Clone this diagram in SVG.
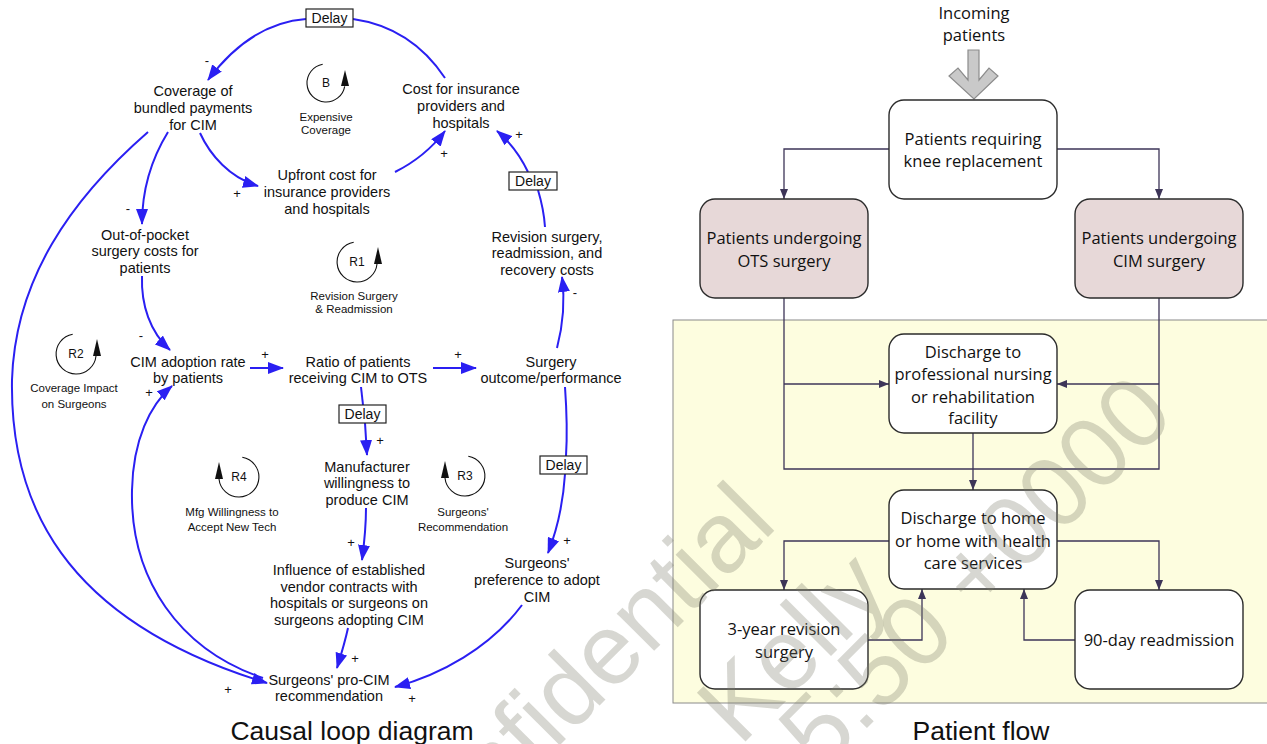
<svg xmlns="http://www.w3.org/2000/svg" width="1267" height="744" viewBox="0 0 1267 744">
<defs>
<style>
.n{font-family:"Liberation Sans",Arial,sans-serif;font-size:14.5px;fill:#111;text-anchor:middle}
.l{font-family:"Liberation Sans",Arial,sans-serif;font-size:11.5px;fill:#111;text-anchor:middle}
.r{font-family:"Liberation Sans",Arial,sans-serif;font-size:12px;fill:#111;text-anchor:middle}
.s{font-family:"Liberation Sans",Arial,sans-serif;font-size:13px;fill:#111;text-anchor:middle}
.d{font-family:"Liberation Sans",Arial,sans-serif;font-size:14px;fill:#111;text-anchor:middle}
.cap{font-family:"Liberation Sans",Arial,sans-serif;font-size:26.5px;fill:#111;text-anchor:middle}
.p{font-family:"Open Sans","Liberation Sans",sans-serif;font-size:16.5px;fill:#111;text-anchor:middle}
.b{fill:none;stroke:#2a1ff2;stroke-width:2}
.ba{fill:none;stroke:#2a1ff2;stroke-width:2;marker-end:url(#ab)}
.dl{fill:#fff;stroke:#222;stroke-width:1.2}
.lp{fill:none;stroke:#111;stroke-width:1.1}
.box{fill:#fff;stroke:#2b2b2b;stroke-width:1.4}
.pink{fill:#e7d8d8;stroke:#2b2b2b;stroke-width:1.4}
.c{fill:none;stroke:#3d3558;stroke-width:1.3}
.ca{fill:none;stroke:#3d3558;stroke-width:1.3;marker-end:url(#ag)}
.wm{font-family:"Liberation Sans",Arial,sans-serif;font-size:100px;fill:#7a7a6a;fill-opacity:0.3;text-anchor:end}
</style>
<marker id="ab" viewBox="0 0 16 12" refX="15" refY="6" markerWidth="16" markerHeight="12" markerUnits="userSpaceOnUse" orient="auto"><path d="M0,0 L16,6 L0,12 z" fill="#2a1ff2"/></marker>
<marker id="ag" viewBox="0 0 10 8" refX="10" refY="4" markerWidth="10" markerHeight="8" markerUnits="userSpaceOnUse" orient="auto"><path d="M0,0 L10,4 L0,8 z" fill="#3d3558"/></marker>
</defs>
<rect width="1267" height="744" fill="#fff"/>

<!-- ===== Causal loop diagram ===== -->
<g id="cld-connectors">
<path class="b" d="M445,78 C425,48 395,25 353,19"/>
<path class="ba" d="M306,19 C265,22 232,48 208,80"/>
<path class="ba" d="M168,132 C152,158 142,190 142,224"/>
<path class="ba" d="M200,133 C210,155 230,178 258,186"/>
<path class="ba" d="M395,172 C415,162 432,148 445,131"/>
<path class="b" d="M545,227 C544,212 541,200 538,190"/>
<path class="ba" d="M528,172 C520,155 510,142 497,131"/>
<path class="ba" d="M148,132 C70,200 15,280 12,380 C10,500 60,620 267,683"/>
<path class="ba" d="M263,678 C180,650 130,580 132,490 C133,440 150,405 172,386"/>
<path class="ba" d="M142,276 C141,305 150,332 170,350"/>
<path class="ba" d="M250,368 L283,368"/>
<path class="ba" d="M433,368 L476,368"/>
<path class="ba" d="M557,348 C563,325 565,300 562,277"/>
<path class="b" d="M361,387 L363,405"/>
<path class="ba" d="M365,423 L367,455"/>
<path class="ba" d="M366,508 C366,530 364,545 362,560"/>
<path class="ba" d="M348,628 C345,642 341,655 337,668"/>
<path class="b" d="M565,387 C567,415 567,440 566,456"/>
<path class="ba" d="M565,474 C563,505 557,530 548,553"/>
<path class="ba" d="M522,605 C490,648 440,675 395,687"/>
</g>

<g id="delay-top"><rect class="dl" x="306" y="9" width="47" height="18"/><text class="d" x="329.5" y="23">Delay</text></g>
<g id="delay-right"><rect class="dl" x="509" y="172" width="48" height="18"/><text class="d" x="533" y="186">Delay</text></g>
<g id="delay-mid"><rect class="dl" x="339" y="405" width="47" height="18"/><text class="d" x="362.5" y="419">Delay</text></g>
<g id="delay-low"><rect class="dl" x="540" y="456" width="47" height="18"/><text class="d" x="563.5" y="470">Delay</text></g>

<g id="signs">
<text class="s" x="207" y="65">-</text>
<text class="s" x="128" y="213">-</text>
<text class="s" x="237" y="198">+</text>
<text class="s" x="444" y="158">+</text>
<text class="s" x="519" y="139">+</text>
<text class="s" x="575" y="297">-</text>
<text class="s" x="141" y="340">-</text>
<text class="s" x="149" y="397">+</text>
<text class="s" x="265" y="359">+</text>
<text class="s" x="458" y="359">+</text>
<text class="s" x="380" y="445">+</text>
<text class="s" x="351" y="547">+</text>
<text class="s" x="355" y="663">+</text>
<text class="s" x="567" y="545">+</text>
<text class="s" x="412" y="703">+</text>
<text class="s" x="228" y="694">+</text>
</g>

<g id="node-coverage"><text class="n" x="193" y="96">Coverage of</text><text class="n" x="193" y="113">bundled payments</text><text class="n" x="193" y="130">for CIM</text></g>
<g id="node-cost"><text class="n" x="461" y="94">Cost for insurance</text><text class="n" x="461" y="111">providers and</text><text class="n" x="461" y="128">hospitals</text></g>
<g id="node-upfront"><text class="n" x="327" y="180">Upfront cost for</text><text class="n" x="327" y="197">insurance providers</text><text class="n" x="327" y="214">and hospitals</text></g>
<g id="node-oop"><text class="n" x="145" y="240">Out-of-pocket</text><text class="n" x="145" y="256">surgery costs for</text><text class="n" x="145" y="273">patients</text></g>
<g id="node-revision"><text class="n" x="547" y="242">Revision surgery,</text><text class="n" x="547" y="258">readmission, and</text><text class="n" x="547" y="275">recovery costs</text></g>
<g id="node-adoption"><text class="n" x="188" y="367">CIM adoption rate</text><text class="n" x="188" y="383">by patients</text></g>
<g id="node-ratio"><text class="n" x="358" y="367">Ratio of patients</text><text class="n" x="358" y="383">receiving CIM to OTS</text></g>
<g id="node-outcome"><text class="n" x="551" y="367">Surgery</text><text class="n" x="551" y="383">outcome/performance</text></g>
<g id="node-manufacturer"><text class="n" x="367" y="472">Manufacturer</text><text class="n" x="367" y="488">willingness to</text><text class="n" x="367" y="505">produce CIM</text></g>
<g id="node-influence"><text class="n" x="349" y="575">Influence of established</text><text class="n" x="349" y="592">vendor contracts with</text><text class="n" x="349" y="608">hospitals or surgeons on</text><text class="n" x="349" y="625">surgeons adopting CIM</text></g>
<g id="node-preference"><text class="n" x="537" y="568">Surgeons'</text><text class="n" x="537" y="585">preference to adopt</text><text class="n" x="537" y="602">CIM</text></g>
<g id="node-procim"><text class="n" x="329" y="685">Surgeons' pro-CIM</text><text class="n" x="329" y="701">recommendation</text></g>

<g id="loop-B">
<path class="lp" d="M322.7,64.3 A19,19 0 1 0 344.7,86.3"/>
<path d="M341,86 L349,86 L345,70 z" fill="#111"/>
<text class="r" x="326" y="87">B</text>
<text class="l" x="326" y="121">Expensive</text><text class="l" x="326" y="134">Coverage</text>
</g>
<g id="loop-R1">
<path class="lp" d="M353.7,242.3 A20,20 0 1 0 377,264"/>
<path d="M374,264 L382,264 L378,247 z" fill="#111"/>
<text class="r" x="357" y="266">R1</text>
<text class="l" x="354" y="300">Revision Surgery</text><text class="l" x="354" y="313">&amp; Readmission</text>
</g>
<g id="loop-R2">
<path class="lp" d="M72.7,334.3 A20,20 0 1 0 96,356"/>
<path d="M93,356 L101,356 L97,339 z" fill="#111"/>
<text class="r" x="76" y="358">R2</text>
<text class="l" x="74" y="392">Coverage Impact</text><text class="l" x="74" y="408">on Surgeons</text>
</g>
<g id="loop-R4">
<path class="lp" d="M242.3,457.3 A20,20 0 1 1 219,479"/>
<path d="M215,479 L223,479 L219,462 z" fill="#111"/>
<text class="r" x="239" y="481">R4</text>
<text class="l" x="232" y="516">Mfg Willingness to</text><text class="l" x="232" y="531">Accept New Tech</text>
</g>
<g id="loop-R3">
<path class="lp" d="M468.3,456.3 A20,20 0 1 1 445,478"/>
<path d="M441,478 L449,478 L445,461 z" fill="#111"/>
<text class="r" x="465" y="480">R3</text>
<text class="l" x="463" y="516">Surgeons'</text><text class="l" x="463" y="531">Recommendation</text>
</g>

<text class="cap" x="352" y="740">Causal loop diagram</text>

<!-- ===== Patient flow ===== -->
<rect x="673" y="320" width="600" height="383" fill="#fdfddf" stroke="#8a8a8a" stroke-width="1"/>

<g id="pf-connectors">
<path class="ca" d="M889,149 H784 V199"/>
<path class="ca" d="M1057,149 H1159 V199"/>
<path class="c" d="M784,298 V469 H1159 V298"/>
<path class="ca" d="M784,384 H889"/>
<path class="ca" d="M1159,384 H1057"/>
<path class="ca" d="M973,433 V490"/>
<path class="ca" d="M889,541 H784 V590"/>
<path class="ca" d="M1057,541 H1159 V590"/>
<path class="ca" d="M868,640 H922 V589"/>
<path class="ca" d="M1075,640 H1024 V589"/>
</g>

<g id="incoming">
<text class="p" x="974" y="19">Incoming</text><text class="p" x="974" y="41">patients</text>
<polygon points="968,50 979,50 979,80 989,68 998,76 974,99 949,76 958,68 968,80" fill="#c9c9c9" stroke="#8c8c8c" stroke-width="1.2"/>
</g>
<g id="pf-knee"><rect class="box" x="889" y="100" width="168" height="99" rx="15"/><text class="p" x="973" y="145">Patients requiring</text><text class="p" x="973" y="167">knee replacement</text></g>
<g id="pf-ots"><rect class="pink" x="700" y="199" width="168" height="99" rx="15"/><text class="p" x="784" y="244">Patients undergoing</text><text class="p" x="784" y="267">OTS surgery</text></g>
<g id="pf-cim"><rect class="pink" x="1075" y="199" width="168" height="99" rx="15"/><text class="p" x="1159" y="244">Patients undergoing</text><text class="p" x="1159" y="267">CIM surgery</text></g>
<g id="pf-nursing"><rect class="box" x="889" y="334" width="168" height="99" rx="15"/><text class="p" x="973" y="358">Discharge to</text><text class="p" x="973" y="380">professional nursing</text><text class="p" x="973" y="403">or rehabilitation</text><text class="p" x="973" y="424">facility</text></g>
<g id="pf-home"><rect class="box" x="889" y="490" width="168" height="99" rx="15"/><text class="p" x="973" y="524">Discharge to home</text><text class="p" x="973" y="547">or home with health</text><text class="p" x="973" y="569">care services</text></g>
<g id="pf-revision"><rect class="box" x="700" y="590" width="168" height="99" rx="15"/><text class="p" x="784" y="635">3-year revision</text><text class="p" x="784" y="658">surgery</text></g>
<g id="pf-readmission"><rect class="box" x="1075" y="590" width="168" height="99" rx="15"/><text class="p" x="1159" y="646">90-day readmission</text></g>

<text class="cap" x="981" y="740">Patient flow</text>

<g id="watermark">
<text class="wm" transform="translate(779,526) rotate(-45)">Confidential</text>
<text class="wm" transform="translate(893,594) rotate(-45)">Kelly</text>
<text class="wm" transform="translate(1177,418) rotate(-45)">5:50 +0000</text>
</g>
</svg>
